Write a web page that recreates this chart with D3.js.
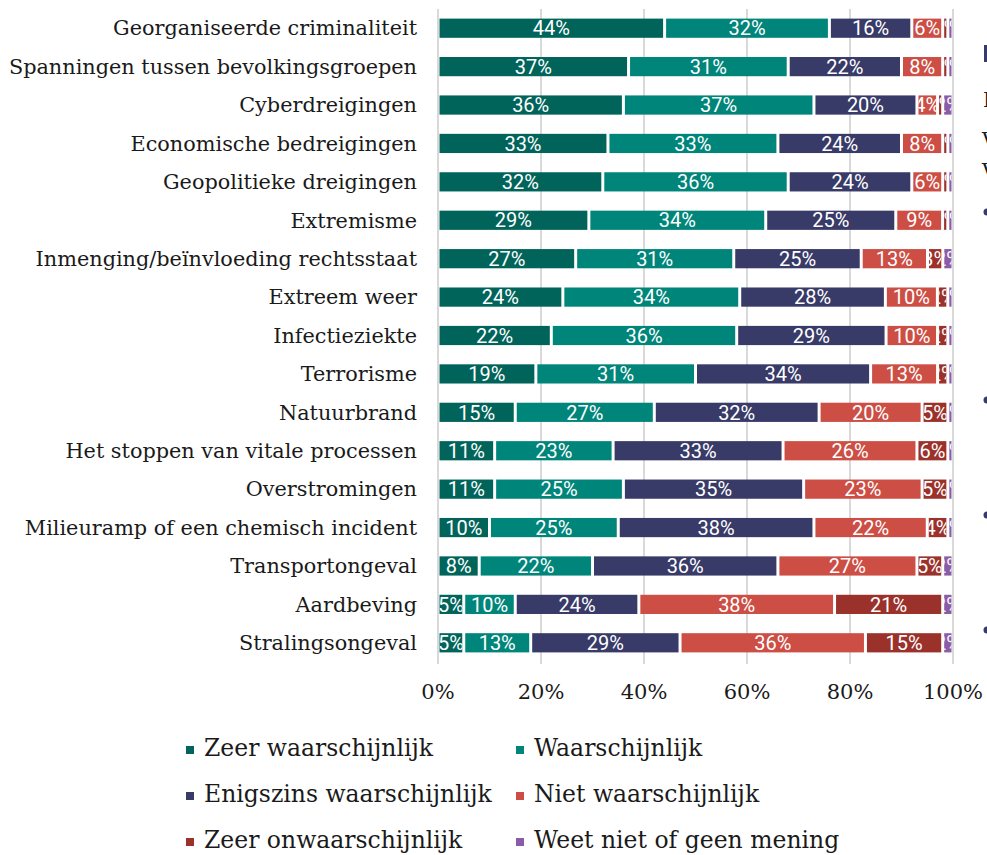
<!DOCTYPE html>
<html>
<head>
<meta charset="utf-8">
<script src="https://cdn.jsdelivr.net/npm/d3@7"></script>
<style>
  body { margin: 0; background: #fff; }
</style>
</head>
<body>
<div id="chart"></div>
<script>
const categories = [
    "Georganiseerde criminaliteit",
    "Spanningen tussen bevolkingsgroepen",
    "Cyberdreigingen",
    "Economische bedreigingen",
    "Geopolitieke dreigingen",
    "Extremisme",
    "Inmenging/beïnvloeding rechtsstaat",
    "Extreem weer",
    "Infectieziekte",
    "Terrorisme",
    "Natuurbrand",
    "Het stoppen van vitale processen",
    "Overstromingen",
    "Milieuramp of een chemisch incident",
    "Transportongeval",
    "Aardbeving",
    "Stralingsongeval",
];

const seriesNames = [
    "Zeer waarschijnlijk",
    "Waarschijnlijk",
    "Enigszins waarschijnlijk",
    "Niet waarschijnlijk",
    "Zeer onwaarschijnlijk",
    "Weet niet of geen mening",
];

const zeerWaarschijnlijk   = [44, 37, 36, 33, 32, 29, 27, 24, 22, 19, 15, 11, 11, 10,  8,  5,  5];
const waarschijnlijk       = [32, 31, 37, 33, 36, 34, 31, 34, 36, 31, 27, 23, 25, 25, 22, 10, 13];
const enigszins            = [16, 22, 20, 24, 24, 25, 25, 28, 29, 34, 32, 33, 35, 38, 36, 24, 29];
const nietWaarschijnlijk   = [ 6,  8,  4,  8,  6,  9, 13, 10, 10, 13, 20, 26, 23, 22, 27, 38, 36];
const zeerOnwaarschijnlijk = [ 1,  1,  1,  1,  1,  1,  3,  2,  2,  2,  5,  6,  5,  4,  5, 21, 15];
const weetNiet             = [ 1,  1,  2,  1,  1,  1,  2,  1,  1,  1,  1,  1,  1,  1,  2,  2,  2];

const tickValues = [0, 20, 40, 60, 80, 100];

const colors = ["#01645b", "#00857a", "#383a68", "#cc4e44", "#9b312b", "#8a5ca8"];

const width = 987;
const height = 855;

// build rows for d3.stack
const columns = [zeerWaarschijnlijk, waarschijnlijk, enigszins, nietWaarschijnlijk, zeerOnwaarschijnlijk, weetNiet];
const rows = categories.map((c, i) => {
    const r = { cat: c };
    seriesNames.forEach((s, j) => r[s] = columns[j][i]);
    return r;
});

const stacked = d3.stack()
    .keys(seriesNames)
    .offset(d3.stackOffsetExpand)(rows);

const svg = d3.select('#chart')
    .append('svg')
    .attr('width', width)
    .attr('height', height)
    .attr('viewBox', [0, 0, width, height]);

const x = d3.scaleLinear()
    .domain([0, 1])
    .range([438, 953]);

const y = d3.scaleBand()
    .domain(categories)
    .range([9, 662])
    .paddingInner(0.5)
    .paddingOuter(0.25);

const color = d3.scaleOrdinal().domain(seriesNames).range(colors);

const serif = "'DejaVu Serif', serif";

// gridlines
svg.append('g')
    .selectAll('line')
    .data(tickValues)
    .join('line')
        .attr('x1', d => x(d / 100))
        .attr('x2', d => x(d / 100))
        .attr('y1', 9)
        .attr('y2', 664)
        .attr('stroke', '#d9d9d9')
        .attr('stroke-width', 2);

// tick labels
svg.append('g')
    .selectAll('text')
    .data(tickValues)
    .join('text')
        .attr('x', d => x(d / 100))
        .attr('y', 692)
        .attr('dy', '0.35em')
        .attr('text-anchor', 'middle')
        .attr('font-family', serif)
        .attr('font-size', 21)
        .attr('fill', '#1a1a1a')
        .text(d => d + '%');

// category labels
svg.append('g')
    .selectAll('text')
    .data(categories)
    .join('text')
        .attr('x', 417)
        .attr('y', d => y(d) + y.bandwidth() / 2)
        .attr('dy', '0.35em')
        .attr('text-anchor', 'end')
        .attr('font-family', serif)
        .attr('font-size', 20.8)
        .attr('fill', '#1a1a1a')
        .text(d => d);

const gap = 1.5;
const defs = svg.append('defs');

stacked.forEach((layer, j) => {
    layer.forEach((d, i) => {
        defs.append('clipPath')
            .attr('id', `clip-${j}-${i}`)
            .append('rect')
            .attr('x', x(d[0]) + gap)
            .attr('y', y(categories[i]))
            .attr('width', Math.max(0, x(d[1]) - x(d[0]) - 2 * gap))
            .attr('height', y.bandwidth());
    });
});

const layers = svg.append('g')
    .selectAll('g')
    .data(stacked)
    .join('g')
        .attr('fill', d => color(d.key));

layers.selectAll('rect')
    .data(d => d)
    .join('rect')
        .attr('x', d => x(d[0]) + gap)
        .attr('y', (d, i) => y(categories[i]))
        .attr('width', d => Math.max(0, x(d[1]) - x(d[0]) - 2 * gap))
        .attr('height', y.bandwidth());

// value labels, clipped to their own segment like the original
layers.each(function(layer, j) {
    d3.select(this).selectAll('text')
        .data(layer)
        .join('text')
            .attr('clip-path', (d, i) => `url(#clip-${j}-${i})`)
            .attr('x', d => (x(d[0]) + x(d[1])) / 2)
            .attr('y', (d, i) => y(categories[i]) + y.bandwidth() / 2)
            .attr('dy', '0.36em')
            .attr('text-anchor', 'middle')
            .attr('font-family', 'Roboto, sans-serif')
            .attr('font-size', 20)
            .attr('fill', '#fff')
            .text((d, i) => columns[j][i] + '%');
});

// legend
const legend = svg.append('g')
    .selectAll('g')
    .data(seriesNames)
    .join('g')
        .attr('transform', (d, i) => `translate(${i % 2 === 0 ? 186 : 516},${748 + Math.floor(i / 2) * 46})`);

legend.append('rect')
    .attr('x', 0)
    .attr('y', -2)
    .attr('width', 8)
    .attr('height', 8)
    .attr('fill', d => color(d));

legend.append('text')
    .attr('x', 18)
    .attr('y', 0)
    .attr('dy', '0.35em')
    .attr('font-family', serif)
    .attr('font-size', 23.5)
    .attr('fill', '#1a1a1a')
    .text(d => d);

// edge of the neighbouring text panel, cut off by the crop
const side = svg.append('g').attr('font-family', serif).attr('fill', '#1a1a1a').attr('font-size', 20);
side.append('rect').attr('x', 984).attr('y', 45).attr('width', 6).attr('height', 17).attr('fill', '#383a68');
side.append('text').attr('x', 983).attr('y', 107).text('In');
side.append('text').attr('x', 982).attr('y', 147).text('Vo');
side.append('text').attr('x', 982).attr('y', 178).text('Ve');
[212, 400, 515, 630].forEach(b => {
    side.append('circle').attr('cx', 987).attr('cy', b).attr('r', 3.5).attr('fill', '#383a68');
});

svg.node();
</script>
</body>
</html>
